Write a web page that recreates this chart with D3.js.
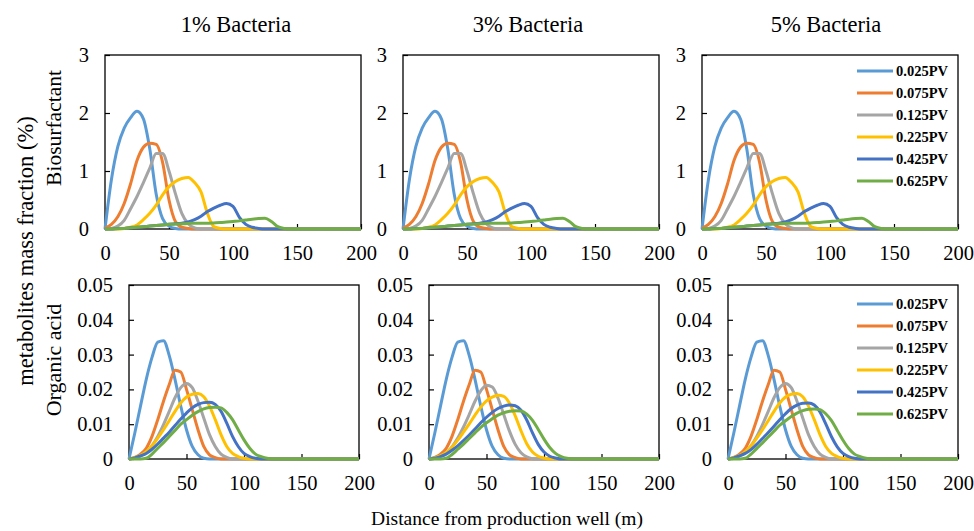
<!DOCTYPE html>
<html>
<head>
<meta charset="utf-8">
<script src="https://cdn.jsdelivr.net/npm/d3@7"></script>
<style>
  body { margin: 0; background: #fff; }
  text { font-family: "Liberation Serif", "Times New Roman", serif; fill: #000; }
</style>
</head>
<body>
<svg id="chart" width="974" height="531"></svg>
<script>
// distance from production well (m)
const distance = [0,5,10,15,20,25,30,35,40,45,50,55,60,65,70,75,80,85,90,95,100,105,110,115,120,125,130,135,140,145,150,200];

const seriesNames = ["0.025PV", "0.075PV", "0.125PV", "0.225PV", "0.425PV", "0.625PV"];
const seriesColors = ["#5B9BD5", "#ED7D31", "#A5A5A5", "#FFC000", "#4472C4", "#70AD47"];
const bacteria = ["1% Bacteria", "3% Bacteria", "5% Bacteria"];

// Biosurfactant (%), same for all bacteria levels
const bio025 = [0,0.85,1.42,1.74,1.92,2.03,1.9,1.38,0.6,0.18,0.05,0.01,0,0,0,0,0,0,0,0,0,0,0,0,0,0,0,0,0,0,0,0];
const bio075 = [0.02,0.08,0.21,0.44,0.78,1.18,1.41,1.48,1.46,1.15,0.5,0.13,0.03,0.01,0,0,0,0,0,0,0,0,0,0,0,0,0,0,0,0,0,0];
const bio125 = [0,0.01,0.05,0.15,0.35,0.56,0.8,1.05,1.3,1.3,1.0,0.61,0.27,0.09,0.02,0,0,0,0,0,0,0,0,0,0,0,0,0,0,0,0,0];
const bio225 = [0,0,0,0.01,0.03,0.07,0.16,0.27,0.41,0.59,0.73,0.82,0.87,0.89,0.8,0.64,0.27,0.04,0.01,0,0,0,0,0,0,0,0,0,0,0,0,0];
const bio425 = [0,0,0.01,0.01,0.02,0.03,0.04,0.05,0.06,0.07,0.08,0.09,0.1,0.12,0.16,0.22,0.3,0.36,0.41,0.44,0.39,0.2,0.08,0.03,0.01,0,0,0,0,0,0,0];
const bio625 = [0,0,0.005,0.01,0.02,0.03,0.04,0.05,0.06,0.07,0.08,0.085,0.09,0.095,0.1,0.1,0.1,0.105,0.11,0.12,0.13,0.14,0.155,0.17,0.18,0.185,0.13,0.04,0.01,0,0,0];

// Organic acid (%), 1% bacteria
const acid1_025 = [0,0.0074,0.0152,0.0229,0.0292,0.0336,0.034,0.0297,0.0229,0.0152,0.0084,0.0036,0.0012,0.0002,0,0,0,0,0,0,0,0,0,0,0,0,0,0,0,0,0,0];
const acid1_075 = [0,0.0005,0.0014,0.0031,0.0065,0.0113,0.0166,0.0214,0.0255,0.025,0.02,0.0142,0.0084,0.0036,0.0012,0.0004,0,0,0,0,0,0,0,0,0,0,0,0,0,0,0,0];
const acid1_125 = [0,0.0003,0.0009,0.0018,0.0038,0.0065,0.0099,0.0137,0.0176,0.0205,0.0217,0.0205,0.0166,0.0118,0.007,0.0036,0.0014,0.0005,0,0,0,0,0,0,0,0,0,0,0,0,0,0];
const acid1_225 = [0,0.0004,0.001,0.0021,0.0038,0.006,0.0084,0.011,0.0137,0.0161,0.0178,0.0186,0.0188,0.0179,0.0152,0.0113,0.007,0.0036,0.0016,0.0007,0.0002,0,0,0,0,0,0,0,0,0,0,0];
const acid1_425 = [0,0.0003,0.0009,0.0016,0.0028,0.0043,0.006,0.0077,0.0096,0.0115,0.0132,0.0147,0.0157,0.0162,0.0163,0.0157,0.0137,0.0103,0.0065,0.0036,0.0016,0.0007,0.0002,0,0,0,0,0,0,0,0,0];
const acid1_625 = [0,0,0,0.0002,0.0014,0.0031,0.0047,0.0065,0.0082,0.01,0.0113,0.0126,0.0136,0.0144,0.0148,0.0149,0.0147,0.0134,0.0113,0.0084,0.0055,0.0031,0.0014,0.0007,0.0002,0,0,0,0,0,0,0];

// Organic acid (%), 3% bacteria
const acid3_125 = [0,0.0003,0.0008,0.0017,0.0035,0.006,0.0092,0.0128,0.0166,0.0196,0.0212,0.0207,0.0175,0.0128,0.008,0.0042,0.0018,0.0006,0.0001,0,0,0,0,0,0,0,0,0,0,0,0,0];
const acid3_225 = [0,0.0003,0.0009,0.0019,0.0034,0.0054,0.0077,0.0101,0.0126,0.0149,0.0167,0.0178,0.0183,0.018,0.016,0.0124,0.0081,0.0044,0.002,0.0008,0.0003,0,0,0,0,0,0,0,0,0,0,0];
const acid3_425 = [0,0.0002,0.0007,0.0014,0.0025,0.0038,0.0053,0.0069,0.0086,0.0104,0.012,0.0134,0.0145,0.0152,0.0155,0.0153,0.014,0.0112,0.0075,0.0042,0.002,0.0008,0.0003,0,0,0,0,0,0,0,0,0];
const acid3_625 = [0,0,0,0.0002,0.0013,0.0028,0.0043,0.0059,0.0075,0.0091,0.0104,0.0116,0.0126,0.0133,0.0137,0.0139,0.0138,0.0129,0.0111,0.0085,0.0057,0.0033,0.0016,0.0007,0.0002,0,0,0,0,0,0,0];

// Organic acid (%), 5% bacteria
const acid5_425 = [0,0.0003,0.0009,0.0016,0.0027,0.0042,0.0059,0.0076,0.0094,0.0113,0.013,0.0145,0.0155,0.016,0.0161,0.0155,0.0135,0.0101,0.0064,0.0035,0.0016,0.0007,0.0002,0,0,0,0,0,0,0,0,0];
const acid5_625 = [0,0,0,0.0002,0.0014,0.003,0.0046,0.0063,0.008,0.0097,0.011,0.0122,0.0132,0.0139,0.0143,0.0144,0.0142,0.013,0.011,0.0082,0.0054,0.003,0.0014,0.0007,0.0002,0,0,0,0,0,0,0];

const bioSeries = [bio025, bio075, bio125, bio225, bio425, bio625];
const acidSeries = [
  [acid1_025, acid1_075, acid1_125, acid1_225, acid1_425, acid1_625],
  [acid1_025, acid1_075, acid3_125, acid3_225, acid3_425, acid3_625],
  [acid1_025, acid1_075, acid1_125, acid1_225, acid5_425, acid5_625]
];

const bioTicks = [0, 1, 2, 3];
const acidTicks = [0, 0.01, 0.02, 0.03, 0.04, 0.05];
const xTicks = [0, 50, 100, 150, 200];

const svg = d3.select("#chart");

// panel boxes
const topLefts = [105, 403, 702];
const botLefts = [129, 429, 728];
const titleX = [236, 528, 826];

function drawPanel(left, top, width, height, yMax, yTicks, yFmt, data, withLegend, legendTop) {
  const x = d3.scaleLinear().domain([0, 200]).range([left, left + width]);
  const y = d3.scaleLinear().domain([0, yMax]).range([top + height, top]);

  // frame
  svg.append("rect")
    .attr("x", left).attr("y", top)
    .attr("width", width).attr("height", height)
    .attr("fill", "none").attr("stroke", "#000").attr("stroke-width", 1.3);

  // x axis
  const gx = svg.append("g")
    .attr("transform", `translate(0,${top + height})`)
    .call(d3.axisBottom(x).tickValues(xTicks).tickSizeInner(-5).tickSizeOuter(0).tickPadding(16));
  gx.select(".domain").remove();
  gx.selectAll("text").style("font-size", "20.5px").style("font-family", "Liberation Serif");
  gx.selectAll("line").attr("stroke-width", 1.2);

  // y axis
  const gy = svg.append("g")
    .attr("transform", `translate(${left},0)`)
    .call(d3.axisLeft(y).tickValues(yTicks).tickFormat(yFmt).tickSizeInner(-5).tickSizeOuter(0).tickPadding(16));
  gy.select(".domain").remove();
  gy.selectAll("text").style("font-size", "20.5px").style("font-family", "Liberation Serif");
  gy.selectAll("line").attr("stroke-width", 1.2);

  const line = d3.line()
    .x((d, i) => x(distance[i]))
    .y(d => y(d))
    .curve(d3.curveMonotoneX);

  data.forEach((vals, k) => {
    svg.append("path")
      .datum(vals)
      .attr("d", line)
      .attr("fill", "none")
      .attr("stroke", seriesColors[k])
      .attr("stroke-width", 3)
      .attr("stroke-linejoin", "round");
  });

  if (withLegend) {
    const lg = svg.append("g");
    seriesNames.forEach((name, k) => {
      const ly = legendTop + k * 22;
      lg.append("line")
        .attr("x1", 857).attr("x2", 893)
        .attr("y1", ly).attr("y2", ly)
        .attr("stroke", seriesColors[k]).attr("stroke-width", 3);
      lg.append("text")
        .attr("x", 896).attr("y", ly)
        .attr("dy", "0.35em")
        .style("font-size", "14.5px")
        .style("font-weight", "bold")
        .text(name);
    });
  }
}

for (let c = 0; c < 3; c++) {
  drawPanel(topLefts[c], 55, 256, 174, 3, bioTicks, d3.format("d"), bioSeries, c === 2, 71);
  drawPanel(botLefts[c], 285, 230, 174, 0.05, acidTicks, d => d === 0 ? "0" : d3.format(".2f")(d), acidSeries[c], c === 2, 304);

  svg.append("text")
    .attr("x", titleX[c]).attr("y", 32)
    .attr("text-anchor", "middle")
    .style("font-size", "22.5px")
    .text(bacteria[c]);
}

// axis titles
svg.append("text")
  .attr("transform", "translate(25,251) rotate(-90)")
  .attr("text-anchor", "middle").attr("dy", "0.35em")
  .style("font-size", "22.5px")
  .text("metabolites mass fraction (%)");

svg.append("text")
  .attr("transform", "translate(53,128) rotate(-90)")
  .attr("text-anchor", "middle").attr("dy", "0.35em")
  .style("font-size", "21.5px")
  .text("Biosurfactant");

svg.append("text")
  .attr("transform", "translate(53,360) rotate(-90)")
  .attr("text-anchor", "middle").attr("dy", "0.35em")
  .style("font-size", "22px")
  .text("Organic acid");

svg.append("text")
  .attr("x", 507).attr("y", 525)
  .attr("text-anchor", "middle")
  .style("font-size", "19.5px")
  .text("Distance from production well (m)");
</script>
</body>
</html>
